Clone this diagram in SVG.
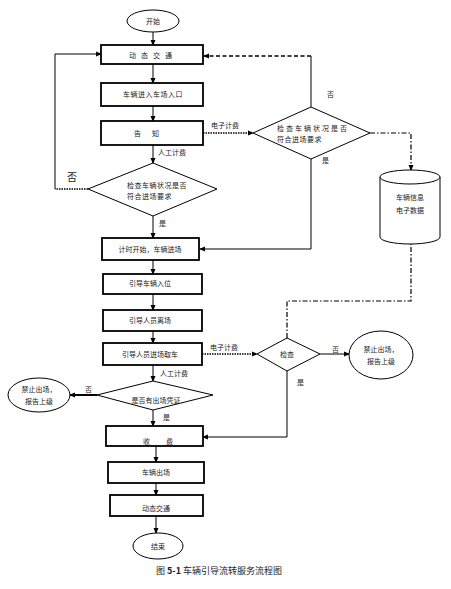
<svg xmlns="http://www.w3.org/2000/svg" width="451" height="589" viewBox="0 0 451 589">
<defs>
<marker id="ah" markerWidth="6" markerHeight="6" refX="5" refY="3" orient="auto" markerUnits="userSpaceOnUse">
<path d="M0,0.5 L6,3 L0,5.5 Z" fill="#000"/>
</marker>
</defs>
<style>
text{font-family:"Noto Sans CJK SC","Liberation Serif",serif;font-size:7px;fill:#222}
.c{text-anchor:middle}
.box{fill:#fff;stroke:#000;stroke-width:1.8}
.shape{fill:#fff;stroke:#000;stroke-width:1}
.ln{fill:none;stroke:#000;stroke-width:1}
.dot{fill:none;stroke:#000;stroke-width:1.5;stroke-dasharray:1.5 1}
.dash{fill:none;stroke:#000;stroke-width:1.3;stroke-dasharray:4 2.5}
.dd{fill:none;stroke:#000;stroke-width:1.2;stroke-dasharray:5 2 1.5 2}
.lbl{font-size:7px}
</style>
<rect width="451" height="589" fill="#fff"/>
<g id="connectors">
<line class="ln" x1="153" y1="32" x2="153" y2="45" marker-end="url(#ah)"/>
<line class="ln" x1="153" y1="64" x2="153" y2="83" marker-end="url(#ah)"/>
<line class="ln" x1="153" y1="106" x2="153" y2="121" marker-end="url(#ah)"/>
<line class="ln" x1="153" y1="145" x2="153" y2="163" marker-end="url(#ah)"/>
<text x="158" y="155" class="lbl">人工计费</text>
<polyline class="dot" points="88,189 55,189 55,189"/>
<polyline class="ln" points="55,189 55,54 101,54" marker-end="url(#ah)"/>
<text x="67" y="181" style="font-size:10px">否</text>
<line class="ln" x1="153" y1="216" x2="153" y2="238" marker-end="url(#ah)"/>
<text x="159" y="226" class="lbl">是</text>
<line class="dot" x1="203" y1="133" x2="253" y2="133" marker-end="url(#ah)"/>
<text x="211" y="128" class="lbl">电子计费</text>
<line class="ln" x1="311" y1="107" x2="311" y2="56"/>
<line class="dash" x1="311" y1="56" x2="204" y2="56" marker-end="url(#ah)"/>
<text x="327" y="97" class="lbl">否</text>
<polyline class="ln" points="311,159 311,249 200,249" marker-end="url(#ah)"/>
<text x="322" y="163" class="lbl">是</text>
<polyline class="dd" points="370,133 411,133 411,170" marker-end="url(#ah)"/>
<line class="ln" x1="153" y1="260" x2="153" y2="274" marker-end="url(#ah)"/>
<line class="ln" x1="153" y1="294" x2="153" y2="310" marker-end="url(#ah)"/>
<line class="ln" x1="153" y1="331" x2="153" y2="343" marker-end="url(#ah)"/>
<line class="ln" x1="153" y1="365" x2="153" y2="381" marker-end="url(#ah)"/>
<text x="160" y="376" class="lbl">人工计费</text>
<line class="dot" x1="202" y1="354" x2="257" y2="354" marker-end="url(#ah)"/>
<text x="210" y="350" class="lbl">电子计费</text>
<polyline class="dd" points="287,338 287,301 411,301 411,238" marker-end="url(#ah)"/>
<line class="ln" x1="320" y1="354" x2="349" y2="354" marker-end="url(#ah)"/>
<text x="332" y="352" class="lbl">否</text>
<polyline class="ln" points="287,371 287,437 203,437" marker-end="url(#ah)"/>
<text x="297" y="385" class="lbl">是</text>
<line class="ln" x1="97" y1="395" x2="70" y2="395" marker-end="url(#ah)" style="stroke-width:2"/>
<text x="85" y="392" class="lbl">否</text>
<line class="ln" x1="153" y1="410" x2="153" y2="426" marker-end="url(#ah)"/>
<text x="163" y="420" class="lbl">是</text>
<line class="ln" x1="156" y1="446" x2="156" y2="462" marker-end="url(#ah)"/>
<line class="ln" x1="156" y1="483" x2="156" y2="495" marker-end="url(#ah)"/>
<line class="ln" x1="156" y1="516" x2="156" y2="533" marker-end="url(#ah)"/>
</g>
<g id="start"><ellipse class="shape" cx="153" cy="21" rx="26" ry="11"/><text x="153" y="24" class="c">开始</text></g>
<g id="n1"><rect class="box" x="101" y="45" width="102" height="19"/><text x="153" y="58" class="c" style="letter-spacing:5px">动态交通</text></g>
<g id="n2"><rect class="box" x="101" y="83" width="102" height="23"/><text x="153" y="97" class="c" style="letter-spacing:0.5px">车辆进入车场入口</text></g>
<g id="n3"><rect class="box" x="101" y="121" width="102" height="24"/><text x="152" y="136" class="c" style="letter-spacing:11px">告知</text></g>
<g id="d1"><polygon class="shape" points="153,163 217,189 153,216 88,189"/><text x="127" y="188" style="letter-spacing:0.5px">检查车辆状况是否</text><text x="127" y="199" style="letter-spacing:0.5px">符合进场要求</text></g>
<g id="d2"><polygon class="shape" points="311,107 370,133 311,159 253,133"/><text x="277" y="131" style="letter-spacing:2px">检查车辆状况是否</text><text x="277" y="142" style="letter-spacing:0.5px">符合进场要求</text></g>
<g id="db"><path class="shape" d="M380,177 L380,237 A30,7 0 0 0 440,237 L440,177"/><ellipse class="shape" cx="410" cy="177" rx="30" ry="7"/><text x="410" y="200" class="c">车辆信息</text><text x="410" y="213" class="c">电子数据</text></g>
<g id="n4"><rect class="box" x="102" y="238" width="97" height="22"/><text x="150" y="252" class="c">计时开始，车辆进场</text></g>
<g id="n5"><rect class="box" x="103" y="274" width="99" height="20"/><text x="150" y="286" class="c">引导车辆入位</text></g>
<g id="n6"><rect class="box" x="103" y="310" width="99" height="21"/><text x="150" y="323" class="c">引导人员离场</text></g>
<g id="n7"><rect class="box" x="103" y="343" width="99" height="22"/><text x="150" y="357" class="c">引导人员进场取车</text></g>
<g id="d3"><polygon class="shape" points="287,338 320,354 287,371 257,354"/><text x="287" y="357" class="c">检查</text></g>
<g id="e1"><ellipse class="shape" cx="381" cy="355" rx="32" ry="24"/><text x="381" y="352" class="c">禁止出场，</text><text x="381" y="364" class="c">报告上级</text></g>
<g id="d4"><polygon class="shape" points="153,381 213,395 153,410 97,395"/><text x="156" y="403" class="c">是否有出场凭证</text></g>
<g id="e2"><ellipse class="shape" cx="39" cy="395" rx="31" ry="17"/><text x="39" y="392" class="c">禁止出场，</text><text x="39" y="404" class="c">报告上级</text></g>
<g id="n8"><rect class="box" x="106" y="426" width="97" height="20"/><text x="143" y="444">收</text><text x="166" y="444">费</text></g>
<g id="n9"><rect class="box" x="108" y="462" width="96" height="21"/><text x="156" y="475" class="c">车辆出场</text></g>
<g id="n10"><rect class="box" x="110" y="495" width="93" height="21"/><text x="156" y="511" class="c">动态交通</text></g>
<g id="end"><ellipse class="shape" cx="158" cy="546" rx="25" ry="13"/><text x="158" y="549" class="c">结束</text></g>
<text x="156" y="574" style="font-size:9px">图 <tspan font-weight="bold">5-1</tspan> 车辆引导流转服务流程图</text>
</svg>
